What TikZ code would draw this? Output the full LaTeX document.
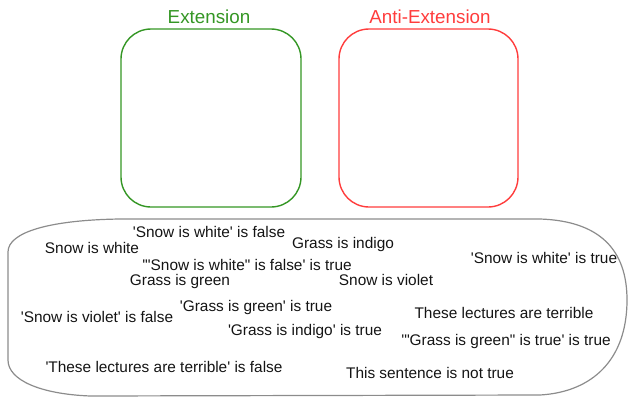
\documentclass[tikz,border=0pt]{standalone}
\usepackage{fontspec}
\setmainfont{Liberation Sans}[Ligatures=TeXOff]
\definecolor{extgreen}{RGB}{52,150,36}
\definecolor{antired}{RGB}{255,60,60}
\definecolor{blobgrey}{RGB}{140,140,140}
\definecolor{txt}{RGB}{20,20,20}
\begin{document}
\begin{tikzpicture}[x=1pt,y=-1pt,
  setbox/.style={line width=1.4pt, rounded corners=30pt},
  title/.style={font=\fontsize{18.8}{20}\selectfont, inner sep=0pt},
  sent/.style={font=\fontsize{15.4}{17}\selectfont, text=txt, inner sep=0pt}]
\useasboundingbox (0,0) rectangle (628,396);
% sets
\draw[setbox, extgreen] (121,29) rectangle (301,207);
\draw[setbox, antired] (339,29) rectangle (518,207);
\node[title, text=extgreen] (ext) at (209,17) {Extension};
\node[title, text=antired] (anti) at (430,17) {Anti-Extension};
% domain blob
\draw[blobgrey, line width=1.2pt] (120,219) -- (540,219)
  .. controls (600,221) and (627,250) .. (627,300)
  .. controls (627,360) and (592,392) .. (540,395)
  -- (90,396)
  .. controls (40,394) and (8,380) .. (8,360)
  -- (8,252)
  .. controls (8,232) and (50,220) .. (120,219);
% sentences
\node[sent] (s1) at (209,232) {'Snow is white' is false};
\node[sent] (s2) at (92,248) {Snow is white};
\node[sent] (s3) at (343,245) {Grass is indigo};
\node[sent] (s4) at (247,265) {'"Snow is white" is false' is true};
\node[sent] (s5) at (180,282) {Grass is green};
\node[sent] (s6) at (386,280) {Snow is violet};
\node[sent] (s7) at (544,258) {'Snow is white' is true};
\node[sent] (s8) at (97,317) {'Snow is violet' is false};
\node[sent] (s9) at (256,308) {'Grass is green' is true};
\node[sent] (s10) at (305,332) {'Grass is indigo' is true};
\node[sent] (s11) at (504,313) {These lectures are terrible};
\node[sent] (s12) at (506,342) {'"Grass is green" is true' is true};
\node[sent] (s13) at (164,367) {'These lectures are terrible' is false};
\node[sent] (s14) at (430,373) {This sentence is not true};
\end{tikzpicture}
\end{document}
